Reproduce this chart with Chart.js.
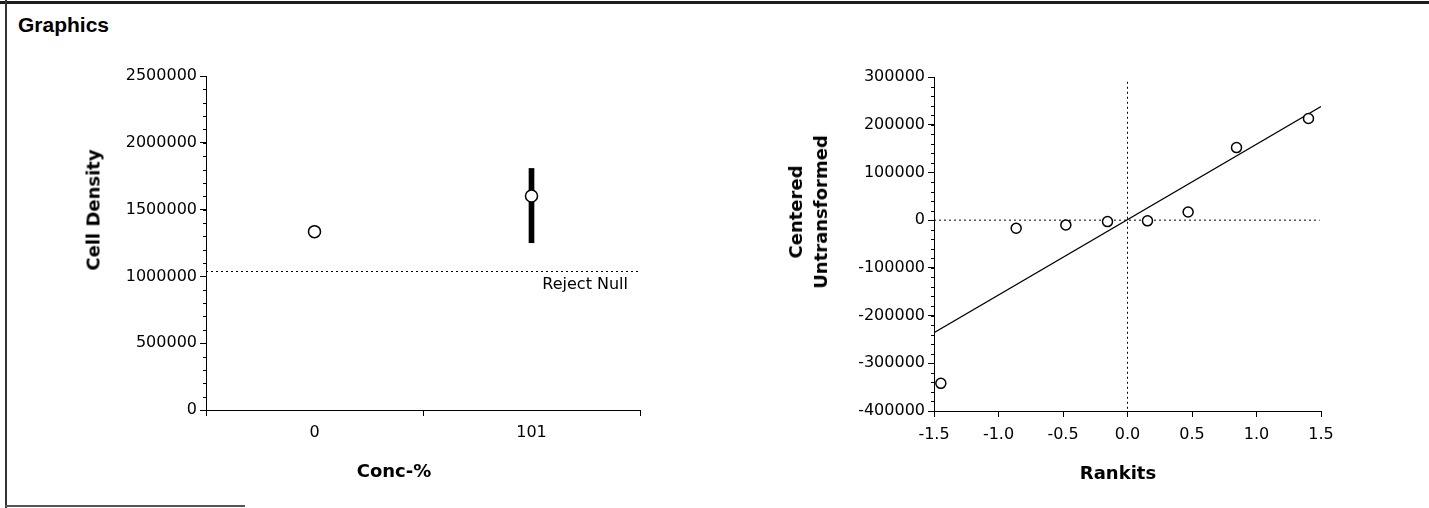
<!DOCTYPE html>
<html>
<head>
<meta charset="utf-8">
<title>Graphics</title>
<script src="https://cdn.jsdelivr.net/npm/chart.js@4.4.1/dist/chart.umd.min.js"></script>
<style>
  html, body { margin: 0; padding: 0; background: #fff; }
  body { width: 1429px; height: 508px; position: relative; overflow: hidden; font-family: "DejaVu Sans", sans-serif; color: #000; }
  .frame-top { position: absolute; left: 0; top: 1px; width: 1429px; height: 3px; background: #1c1c1c; }
  .frame-left { position: absolute; left: 5px; top: 0; width: 2px; height: 508px; background: #333; }
  .frame-bottom { position: absolute; left: 5px; top: 505px; width: 240px; height: 2px; background: #555; }
  .heading { position: absolute; left: 18px; top: 13px; font: bold 21px "Liberation Sans", Arial, sans-serif; }
  .chart-box { position: absolute; top: 0; height: 508px; }
  #left-box { left: 0; width: 700px; }
  #right-box { left: 700px; width: 729px; }
  .axis-title { position: absolute; font: bold 18px "DejaVu Sans", sans-serif; white-space: nowrap; text-align: center; line-height: 25px; }
  .axis-title.vertical { transform: translate(-50%, -50%) rotate(-90deg); }
  .axis-title.horizontal { transform: translate(-50%, -50%); }
</style>
</head>
<body>
<div class="frame-top"></div>
<div class="frame-left"></div>
<div class="frame-bottom"></div>
<div class="heading">Graphics</div>

<div class="chart-box" id="left-box"><canvas id="density-chart" width="700" height="508"></canvas></div>
<div class="chart-box" id="right-box"><canvas id="rankit-chart" width="729" height="508"></canvas></div>

<div class="axis-title vertical" style="left:93px; top:210px;">Cell Density</div>
<div class="axis-title horizontal" style="left:394px; top:470px;">Conc-%</div>
<div class="axis-title vertical" style="left:808px; top:212px;">Centered<br>Untransformed</div>
<div class="axis-title horizontal" style="left:1118px; top:472px;">Rankits</div>

<script>
// ─── Data ─────────────────────────────────────────────────────────────────────

const concLabels = ["0", "101"];
const cellDensity = [1335000, 1602000];
const intervalLow = [null, 1252000];
const intervalHigh = [null, 1808000];
const rejectNull = 1040000;
const densityTicks = [0, 500000, 1000000, 1500000, 2000000, 2500000];

const rankits = [-1.447, -0.863, -0.478, -0.155, 0.155, 0.47, 0.845, 1.403];
const centered = [-342000, -17000, -10000, -3000, -1500, 17000, 152000, 213000];
const fitX = [-1.5, 1.5];
const fitY = [-236000, 238000];
const zeroLineX = [-1.5, 1.49];
const zeroLineY = [290000, -400000];
const rankitTicks = [-1.5, -1.0, -0.5, 0, 0.5, 1.0, 1.5];
const centeredTicks = [-400000, -300000, -200000, -100000, 0, 100000, 200000, 300000];

// ─── Shared bits ──────────────────────────────────────────────────────────────

Chart.defaults.font.family = '"DejaVu Sans", sans-serif';
Chart.defaults.color = "#000";

const tickFont = { family: '"DejaVu Sans", sans-serif', size: 16 };

const minorTicks = {
  id: "minorTicks",
  afterDraw(chart, args, opts) {
    const { ctx } = chart;
    (opts.axes || []).forEach(a => {
      const s = chart.scales[a.id];
      ctx.save();
      ctx.strokeStyle = "#000";
      ctx.lineWidth = 1;
      ctx.beginPath();
      for (let v = s.min; v <= s.max + a.step / 100; v += a.step) {
        const py = Math.round(s.getPixelForValue(v)) + 0.5;
        ctx.moveTo(s.right, py);
        ctx.lineTo(s.right - a.len, py);
      }
      ctx.stroke();
      ctx.restore();
    });
  },
};

const rejectNullLine = {
  id: "rejectNullLine",
  beforeDatasetsDraw(chart) {
    const { ctx, chartArea, scales: { y } } = chart;
    const py = Math.round(y.getPixelForValue(rejectNull)) + 0.5;
    ctx.save();
    ctx.strokeStyle = "#000";
    ctx.lineWidth = 1;
    ctx.setLineDash([2, 3]);
    ctx.beginPath();
    ctx.moveTo(chartArea.left, py);
    ctx.lineTo(chartArea.right, py);
    ctx.stroke();
    ctx.setLineDash([]);
    ctx.fillStyle = "#000";
    ctx.font = '16px "DejaVu Sans", sans-serif';
    ctx.textAlign = "right";
    ctx.textBaseline = "top";
    ctx.fillText("Reject Null", chartArea.right - 12, py + 5);
    ctx.restore();
  },
};

function axisGrid() {
  return { drawOnChartArea: false, drawTicks: true, tickLength: 6, color: "#000", lineWidth: 1 };
}

// ─── Left: Cell Density by Conc-% ────────────────────────────────────────────

new Chart(document.getElementById("density-chart"), {
  type: "bar",
  data: {
    labels: concLabels,
    datasets: [
      {
        type: "line",
        label: "Cell Density",
        data: cellDensity,
        showLine: false,
        pointRadius: 6,
        pointBackgroundColor: "#fff",
        pointBorderColor: "#000",
        pointBorderWidth: 1.5,
        order: 0,
      },
      {
        type: "bar",
        label: "Interval",
        data: intervalLow.map((lo, i) => (lo == null ? null : [lo, intervalHigh[i]])),
        backgroundColor: "#000",
        barThickness: 5,
        order: 1,
      },
    ],
  },
  options: {
    responsive: false,
    animation: false,
    layout: { padding: { top: 76, right: 60, bottom: 0, left: 0 } },
    plugins: {
      legend: { display: false },
      tooltip: { enabled: false },
      minorTicks: { axes: [{ id: "y", step: 100000, len: 3 }] },
    },
    scales: {
      x: {
        type: "category",
        offset: true,
        grid: { ...axisGrid(), offset: true },
        border: { color: "#000", width: 1 },
        ticks: { color: "#000", font: tickFont, padding: 7, maxRotation: 0 },
        afterFit: s => { s.height = 98; },
      },
      y: {
        min: 0,
        max: 2500000,
        afterBuildTicks: s => { s.ticks = densityTicks.map(v => ({ value: v })); },
        grid: axisGrid(),
        border: { color: "#000", width: 1 },
        ticks: { color: "#000", font: tickFont, padding: 3, callback: v => String(v) },
        afterFit: s => { s.width = 206; },
      },
    },
  },
  plugins: [minorTicks, rejectNullLine],
});

// ─── Right: Centered residuals vs Rankits ───────────────────────────────────

new Chart(document.getElementById("rankit-chart"), {
  type: "scatter",
  data: {
    datasets: [
      {
        label: "Centered",
        data: rankits.map((x, i) => ({ x, y: centered[i] })),
        pointRadius: 5,
        pointBackgroundColor: "#fff",
        pointBorderColor: "#000",
        pointBorderWidth: 1.5,
        order: 0,
      },
      {
        type: "line",
        label: "Fit",
        data: fitX.map((x, i) => ({ x, y: fitY[i] })),
        borderColor: "#000",
        borderWidth: 1.2,
        pointRadius: 0,
        order: 1,
      },
      {
        type: "line",
        label: "Zero (y)",
        data: zeroLineX.map(x => ({ x, y: 0 })),
        borderColor: "#000",
        borderWidth: 1,
        borderDash: [2, 3],
        pointRadius: 0,
        order: 2,
      },
      {
        type: "line",
        label: "Zero (x)",
        data: zeroLineY.map(y => ({ x: 0, y })),
        borderColor: "#000",
        borderWidth: 1,
        borderDash: [2, 3],
        pointRadius: 0,
        order: 2,
      },
    ],
  },
  options: {
    responsive: false,
    animation: false,
    layout: { padding: { top: 77, right: 108, bottom: 0, left: 0 } },
    plugins: {
      legend: { display: false },
      tooltip: { enabled: false },
      minorTicks: { axes: [{ id: "y", step: 20000, len: 3 }] },
    },
    scales: {
      x: {
        type: "linear",
        min: -1.5,
        max: 1.5,
        afterBuildTicks: s => { s.ticks = rankitTicks.map(v => ({ value: v })); },
        grid: axisGrid(),
        border: { color: "#000", width: 1 },
        ticks: { color: "#000", font: tickFont, padding: 8, maxRotation: 0, callback: v => Number(v).toFixed(1) },
        afterFit: s => { s.height = 97; },
      },
      y: {
        min: -400000,
        max: 300000,
        afterBuildTicks: s => { s.ticks = centeredTicks.map(v => ({ value: v })); },
        grid: axisGrid(),
        border: { color: "#000", width: 1 },
        ticks: { color: "#000", font: tickFont, padding: 3, callback: v => String(v) },
        afterFit: s => { s.width = 234; },
      },
    },
  },
  plugins: [minorTicks],
});
</script>
</body>
</html>
